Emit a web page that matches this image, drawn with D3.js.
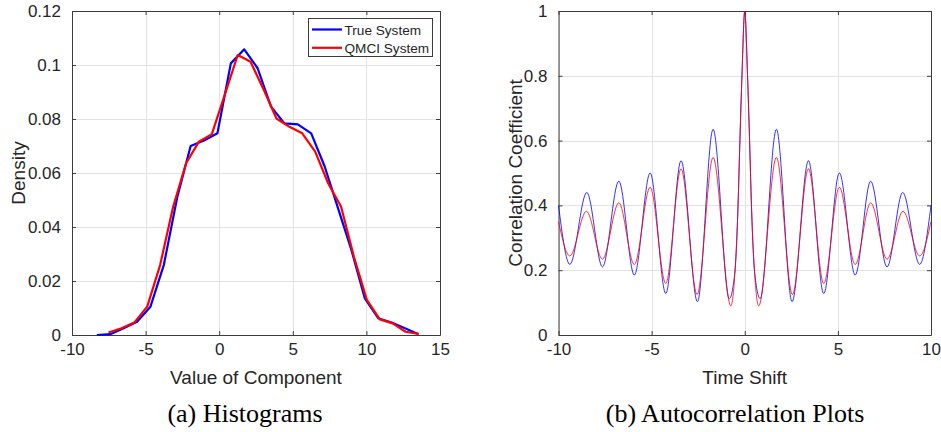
<!DOCTYPE html>
<html>
<head>
<meta charset="utf-8">
<script src="https://cdn.jsdelivr.net/npm/d3@7"></script>
<style>
  html, body { margin: 0; padding: 0; background: #fff; }
  svg { display: block; }
  text { font-family: "Liberation Sans", Arial, sans-serif; fill: #262626; }
  .cap { font-family: "Liberation Serif", "Times New Roman", serif; fill: #000; }
</style>
</head>
<body>
<svg id="chart" width="941" height="432"></svg>
<script>
// ---------- Data: (a) Histograms ----------
const histTrueX = [-8.31, -7.40, -6.49, -5.58, -4.67, -3.76, -2.85, -1.94, -1.03, -0.12, 0.79, 1.70, 2.61,
                   3.52, 4.43, 5.34, 6.25, 7.16, 8.07, 8.98, 9.89, 10.80, 11.71, 12.62, 13.54];
const histTrueY = [0, 0.0003, 0.0025, 0.0049, 0.0105, 0.026, 0.051, 0.070, 0.072, 0.0747, 0.1006, 0.1058, 0.0988,
                   0.0846, 0.0784, 0.0780, 0.0747, 0.0625, 0.047, 0.0315, 0.0136, 0.0062, 0.0046, 0.0025, 0.0003];
const histQmciX = [-7.52, -6.64, -5.77, -4.89, -4.01, -3.13, -2.25, -1.38, -0.50, 0.38, 1.26, 2.13, 3.01,
                   3.89, 4.77, 5.64, 6.52, 7.40, 8.28, 9.15, 10.03, 10.91, 11.79, 12.66, 13.54];
const histQmciY = [0.0009, 0.0025, 0.0046, 0.0105, 0.026, 0.0475, 0.0636, 0.0716, 0.0744, 0.089, 0.1037, 0.1012, 0.091,
                   0.0802, 0.0771, 0.0747, 0.0679, 0.0562, 0.0475, 0.029, 0.013, 0.0058, 0.0043, 0.0012, 0.0004];
const histXTicks = [-10, -5, 0, 5, 10, 15];
const histYTicks = [0, 0.02, 0.04, 0.06, 0.08, 0.1, 0.12];
const histYTickLabels = ["0", "0.02", "0.04", "0.06", "0.08", "0.1", "0.12"];
const legendLabels = ["True System", "QMCI System"];

// ---------- Data: (b) Autocorrelation (read extrema + central flanks) ----------
const acTrueX = [-10, -9.39, -8.48, -7.64, -6.76, -5.93, -5.08, -4.24, -3.42, -2.54, -1.70, -0.83,
                 -0.52, -0.36, -0.26, -0.15, 0, 0.15, 0.26, 0.36, 0.52,
                 0.83, 1.70, 2.54, 3.42, 4.24, 5.08, 5.93, 6.76, 7.64, 8.48, 9.39, 10];
const acTrueY = [0.40, 0.218, 0.44, 0.21, 0.475, 0.185, 0.50, 0.128, 0.538, 0.103, 0.635, 0.112,
                 0.20, 0.40, 0.60, 0.80, 1.0, 0.80, 0.60, 0.40, 0.20,
                 0.112, 0.635, 0.103, 0.538, 0.128, 0.50, 0.185, 0.475, 0.21, 0.44, 0.218, 0.40];
const acQmciX = [-10, -9.39, -8.50, -7.64, -6.76, -5.93, -5.08, -4.24, -3.42, -2.56, -1.70, -0.75,
                 -0.52, -0.36, -0.26, -0.15, 0, 0.15, 0.26, 0.36, 0.52,
                 0.75, 1.70, 2.56, 3.42, 4.24, 5.08, 5.93, 6.76, 7.64, 8.50, 9.39, 10];
const acQmciY = [0.35, 0.244, 0.382, 0.234, 0.408, 0.2175, 0.456, 0.159, 0.513, 0.125, 0.548, 0.09,
                 0.20, 0.40, 0.60, 0.80, 1.0, 0.80, 0.60, 0.40, 0.20,
                 0.09, 0.548, 0.125, 0.513, 0.159, 0.456, 0.2175, 0.408, 0.234, 0.382, 0.244, 0.35];
const acXTicks = [-10, -5, 0, 5, 10];
const acYTicks = [0, 0.2, 0.4, 0.6, 0.8, 1];
const acYTickLabels = ["0", "0.2", "0.4", "0.6", "0.8", "1"];

const captions = ["(a) Histograms", "(b) Autocorrelation Plots"];
const axisLabels = { a: ["Value of Component", "Density"], b: ["Time Shift", "Correlation Coefficient"] };

// ---------- Drawing ----------
const svg = d3.select("#chart");

function drawAxes(opt) {
  const g = svg.append("g");
  const x = d3.scaleLinear().domain(opt.xDomain).range([opt.left, opt.right]);
  const y = d3.scaleLinear().domain(opt.yDomain).range([opt.bottom, opt.top]);

  g.append("g").selectAll("line").data(opt.xTicks).join("line")
    .attr("x1", d => Math.round(x(d)) + 0.5).attr("x2", d => Math.round(x(d)) + 0.5)
    .attr("y1", opt.top).attr("y2", opt.bottom)
    .attr("stroke", "#e3e3e3").attr("stroke-width", 1);
  g.append("g").selectAll("line").data(opt.yTicks).join("line")
    .attr("y1", d => Math.round(y(d)) + 0.5).attr("y2", d => Math.round(y(d)) + 0.5)
    .attr("x1", opt.left).attr("x2", opt.right)
    .attr("stroke", "#e3e3e3").attr("stroke-width", 1);

  const tl = 4;
  const xb = g.append("g").attr("transform", `translate(0,${opt.bottom})`)
    .call(d3.axisBottom(x).tickValues(opt.xTicks).tickSizeInner(-tl).tickSizeOuter(0).tickPadding(10).tickFormat(d3.format("d")));
  const xt = g.append("g").attr("transform", `translate(0,${opt.top})`)
    .call(d3.axisTop(x).tickValues(opt.xTicks).tickSizeInner(-tl).tickSizeOuter(0).tickFormat(""));
  const yl = g.append("g").attr("transform", `translate(${opt.left},0)`)
    .call(d3.axisLeft(y).tickValues(opt.yTicks).tickSizeInner(-tl).tickSizeOuter(0).tickPadding(11)
      .tickFormat((d, i) => opt.yTickLabels[i]));
  const yr = g.append("g").attr("transform", `translate(${opt.right},0)`)
    .call(d3.axisRight(y).tickValues(opt.yTicks).tickSizeInner(-tl).tickSizeOuter(0).tickFormat(""));
  [xb, xt, yl, yr].forEach(a => {
    a.select(".domain").attr("stroke", "#3c3c3c").attr("stroke-width", 1);
    a.selectAll(".tick line").attr("stroke", "#3c3c3c");
    a.selectAll("text").attr("font-size", 17).attr("fill", "#262626")
      .attr("font-family", '"Liberation Sans", Arial, sans-serif');
  });
  xb.selectAll("text").attr("dy", "0.71em").attr("y", 8)
    .text(d => d < 0 ? "-" + Math.abs(d) : String(d));

  g.append("text").attr("x", (opt.left + opt.right) / 2).attr("y", 384)
    .attr("text-anchor", "middle").attr("font-size", 19).text(opt.labels[0]);
  g.append("text").attr("transform", `translate(${opt.ylabX},${(opt.top + opt.bottom) / 2}) rotate(-90)`)
    .attr("text-anchor", "middle").attr("font-size", 19).text(opt.labels[1]);

  return { g, x, y };
}

// (a) Histograms
const A = drawAxes({
  left: 72, right: 440, top: 11, bottom: 335,
  xDomain: [-10, 15], yDomain: [0, 0.12],
  xTicks: histXTicks, yTicks: histYTicks, yTickLabels: histYTickLabels,
  labels: axisLabels.a, ylabX: 25
});
const lineA = d3.line().x(d => A.x(d[0])).y(d => A.y(d[1]));
A.g.append("path").datum(d3.zip(histTrueX, histTrueY)).attr("d", lineA)
  .attr("fill", "none").attr("stroke", "#0000ff").attr("stroke-width", 2.2).attr("stroke-linejoin", "round");
A.g.append("path").datum(d3.zip(histQmciX, histQmciY)).attr("d", lineA)
  .attr("fill", "none").attr("stroke", "#ff0000").attr("stroke-width", 2.2).attr("stroke-linejoin", "round");

const lg = A.g.append("g");
lg.append("rect").attr("x", 308.5).attr("y", 18.5).attr("width", 124).attr("height", 38)
  .attr("fill", "#fff").attr("stroke", "#3c3c3c").attr("stroke-width", 1);
const legColors = ["#0000ff", "#ff0000"];
legendLabels.forEach((t, i) => {
  const yy = 29.5 + i * 18.3;
  lg.append("line").attr("x1", 312).attr("x2", 342).attr("y1", yy).attr("y2", yy)
    .attr("stroke", legColors[i]).attr("stroke-width", 2.2);
  lg.append("text").attr("x", 344.5).attr("y", yy + 5).attr("font-size", 13.6).text(t);
});

// (b) Autocorrelation
const B = drawAxes({
  left: 558.5, right: 931, top: 11, bottom: 335,
  xDomain: [-10, 10], yDomain: [0, 1],
  xTicks: acXTicks, yTicks: acYTicks, yTickLabels: acYTickLabels,
  labels: axisLabels.b, ylabX: 522
});
const lineB = d3.line().x(d => B.x(d[0])).y(d => B.y(d[1])).curve(d3.curveMonotoneX);
B.g.append("path").datum(d3.zip(acTrueX, acTrueY)).attr("d", lineB)
  .attr("fill", "none").attr("stroke", "#0000ff").attr("stroke-width", 1).attr("stroke-opacity", 0.8);
B.g.append("path").datum(d3.zip(acQmciX, acQmciY)).attr("d", lineB)
  .attr("fill", "none").attr("stroke", "#ff0000").attr("stroke-width", 1).attr("stroke-opacity", 0.8);

svg.append("text").attr("class", "cap").attr("x", 245).attr("y", 422)
  .attr("text-anchor", "middle").attr("font-size", 26).text(captions[0]);
svg.append("text").attr("class", "cap").attr("x", 735).attr("y", 422)
  .attr("text-anchor", "middle").attr("font-size", 26).text(captions[1]);
</script>
</body>
</html>
